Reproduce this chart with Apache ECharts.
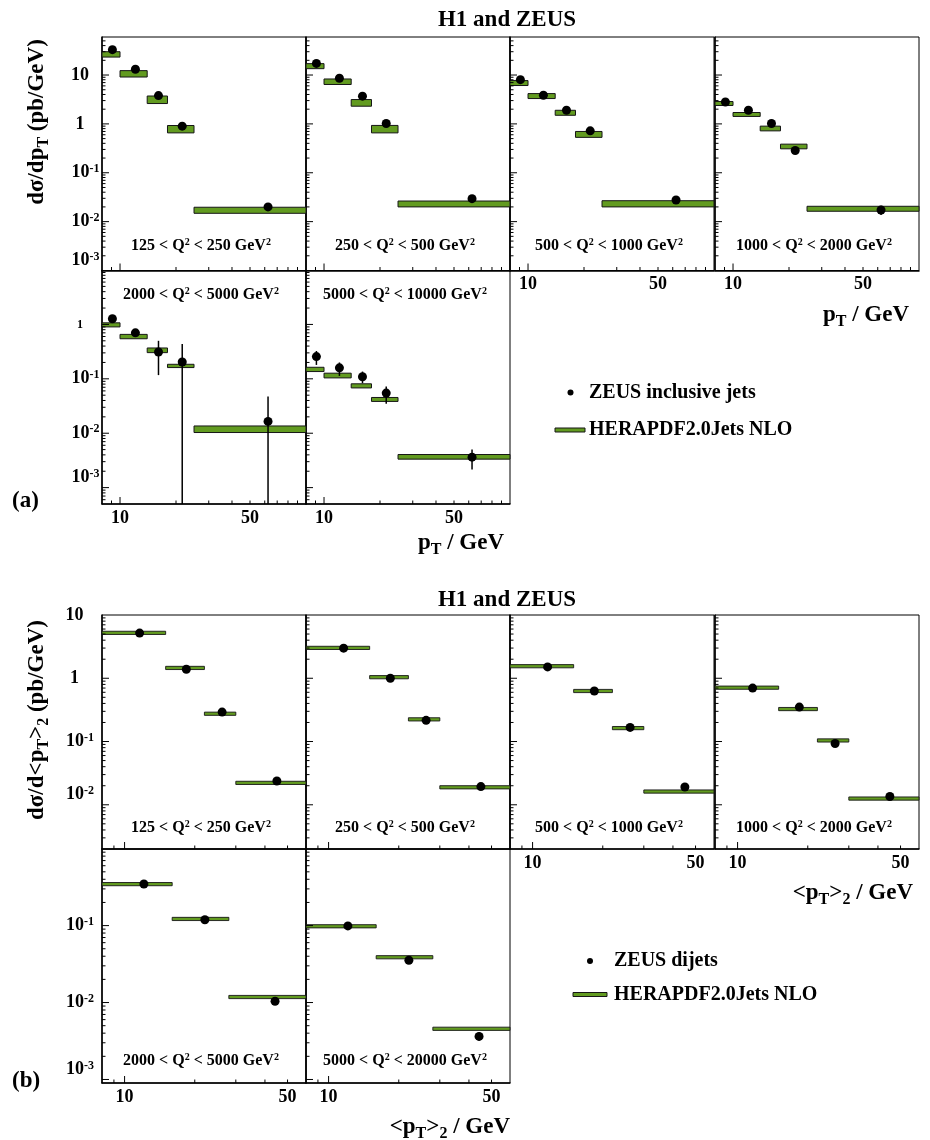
<!DOCTYPE html>
<html><head><meta charset="utf-8">
<script src="https://cdn.jsdelivr.net/npm/echarts@6/dist/echarts.min.js"></script>
<style>html,body{margin:0;padding:0;background:#fff}#c{width:930px;height:1140px}</style>
</head><body><div id="c"></div>
<script>
// ================= DATA =================
// (a) ZEUS inclusive jets, d sigma / d pT
const incEdges = [8, 10, 14, 18, 25, 100];
const incPt = [9.1, 12.1, 16.1, 21.6, 62.5];
const incQ2 = [['125','250'],['250','500'],['500','1000'],['1000','2000'],['2000','5000'],['5000','10000']];
const incXsec = [
  [33, 13.1, 3.8, 0.90, 0.020],
  [17.3, 8.6, 3.7, 1.02, 0.0295],
  [8.05, 3.85, 1.9, 0.72, 0.0277],
  [2.81, 1.9, 1.02, 0.286, 0.0173],
  [1.27, 0.70, 0.311, 0.204, 0.0165],
  [0.256, 0.159, 0.109, 0.0547, 0.00363]
];
// lower/upper ends of the error bars (0 = bar runs below the axis range)
const incErrLo = [
  [31, 12.4, 3.6, 0.85, 0.0186],
  [16.4, 8.1, 3.5, 0.96, 0.0275],
  [7.6, 3.65, 1.8, 0.68, 0.0258],
  [2.66, 1.8, 0.96, 0.27, 0.0137],
  [1.19, 0.65, 0.117, 0, 0],
  [0.18, 0.113, 0.083, 0.035, 0.00216]
];
const incErrHi = [
  [35, 13.8, 4.0, 0.95, 0.0214],
  [18.2, 9.1, 3.9, 1.08, 0.0315],
  [8.5, 4.05, 2.0, 0.76, 0.0296],
  [2.96, 2.0, 1.08, 0.30, 0.0212],
  [1.36, 0.75, 0.50, 0.436, 0.0474],
  [0.325, 0.2, 0.136, 0.072, 0.0050]
];
// HERAPDF2.0Jets NLO uncertainty band (low / high)
const incThLo = [
  [23.3, 9.1, 2.61, 0.655, 0.0148],
  [13.5, 6.4, 2.3, 0.655, 0.020],
  [6.1, 3.3, 1.5, 0.53, 0.020],
  [2.38, 1.42, 0.72, 0.309, 0.0163],
  [0.90, 0.545, 0.303, 0.161, 0.0103],
  [0.136, 0.104, 0.068, 0.0384, 0.00334]
];
const incThHi = [
  [30.0, 12.3, 3.72, 0.927, 0.0197],
  [17.1, 8.3, 3.15, 0.93, 0.0264],
  [7.7, 4.17, 1.9, 0.70, 0.0268],
  [2.87, 1.71, 0.90, 0.385, 0.0206],
  [1.07, 0.656, 0.369, 0.185, 0.0136],
  [0.163, 0.127, 0.081, 0.0454, 0.00406]
];

// (b) ZEUS dijets, d sigma / d <pT>_2
const diEdgesLowQ2 = [8, 15, 22, 30, 60];
const diPtLowQ2 = [11.6, 18.4, 26.2, 45.0];
const diEdgesHighQ2 = [8, 16, 28, 60];
const diPtHighQ2 = [12.1, 22.1, 44.2];
const diQ2 = [['125','250'],['250','500'],['500','1000'],['1000','2000'],['2000','5000'],['5000','20000']];
const diXsec = [
  [5.17, 1.39, 0.292, 0.0238],
  [2.99, 1.00, 0.216, 0.0194],
  [1.51, 0.63, 0.167, 0.0191],
  [0.70, 0.35, 0.093, 0.0135],
  [0.347, 0.119, 0.0104],
  [0.099, 0.0355, 0.00363]
];
const diErrLo = [
  [5.0, 1.34, 0.282, 0.0228],
  [2.9, 0.97, 0.209, 0.0186],
  [1.46, 0.61, 0.161, 0.0182],
  [0.68, 0.338, 0.089, 0.0128],
  [0.336, 0.115, 0.0098],
  [0.095, 0.0342, 0.0032]
];
const diErrHi = [
  [5.34, 1.44, 0.302, 0.0248],
  [3.08, 1.03, 0.223, 0.0202],
  [1.56, 0.65, 0.173, 0.0200],
  [0.72, 0.362, 0.097, 0.0142],
  [0.358, 0.123, 0.0110],
  [0.103, 0.0368, 0.0041]
];
const diTheory = [
  [5.22, 1.456, 0.275, 0.0222],
  [3.02, 1.04, 0.224, 0.0189],
  [1.55, 0.629, 0.163, 0.0162],
  [0.71, 0.326, 0.104, 0.01254],
  [0.346, 0.122, 0.0118],
  [0.098, 0.0388, 0.00456]
];

// axis ranges and labels
const incXRange = [8, 100];
const diXRange = [8, 60];
const incYRanges = [[0.001, 60], [0.0005, 9.8]];
const diYRanges = [[0.002, 10], [0.0009, 0.99]];
const xLabelValues = [10, 50];
const minorMultipliers = [2, 3, 4, 5, 6, 7, 8, 9];

// ================= STYLE / LAYOUT =================
const FONT = '"Liberation Serif","Times New Roman",serif';
const GREEN = '#629b20';
const colLeft = [102, 306, 510, 715];
const panelW = 204;

const grids = [], xAxes = [], yAxes = [], series = [], graphics = [];

function decades(r) {
  const out = [];
  for (let k = Math.ceil(Math.log10(r[0]) - 1e-9); k <= Math.floor(Math.log10(r[1]) + 1e-9); k++) out.push(Math.pow(10, k));
  return out;
}
function logTicks(r) {
  const out = [];
  for (let k = Math.floor(Math.log10(r[0])) - 1; k <= Math.ceil(Math.log10(r[1])); k++) {
    const d = Math.pow(10, k);
    if (d > r[0] * 1.0001 && d < r[1] * 0.9999) out.push({ v: d, major: true });
    minorMultipliers.forEach(m => {
      const v = m * d;
      if (v > r[0] * 1.0001 && v < r[1] * 0.9999) out.push({ v: v, major: false });
    });
  }
  return out;
}

const yRich = {
  n: { fontSize: 18, fontWeight: 'bold', fontFamily: FONT, color: '#000', lineHeight: 20 },
  t: { fontSize: 12, fontWeight: 'bold', fontFamily: FONT, color: '#000', lineHeight: 20 },
  s: { fontSize: 12, fontWeight: 'bold', fontFamily: FONT, color: '#000', lineHeight: 12, verticalAlign: 'top' },
  p: { width: 11, fontSize: 12, lineHeight: 12 }
};
function yFormatter(smallOne) {
  return function (v) {
    const k = Math.round(Math.log10(v));
    if (k === 0) return smallOne ? '{t|1}{p| }' : '{n|1}{p| }';
    if (k === 1) return '{n|10}{p| }';
    return '{n|10}{s|' + k + '}';
  };
}

function addPanel(p) {
  const gi = grids.length;
  grids.push({ left: p.left, top: p.top, width: panelW, height: p.h, show: true,
    borderColor: '#000', borderWidth: 1, backgroundColor: 'transparent', containLabel: false, outerBoundsMode: 'none' });
  xAxes.push({ type: 'log', logBase: 10, gridIndex: gi, min: p.xr[0], max: p.xr[1],
    axisLine: { show: true, onZero: false, lineStyle: { color: '#000', width: 1.5 } },
    axisTick: { show: false }, splitLine: { show: false }, minorTick: { show: false }, minorSplitLine: { show: false },
    axisLabel: { show: p.showX, customValues: xLabelValues, formatter: v => String(Math.round(v)),
      fontSize: 18, fontWeight: 'bold', fontFamily: FONT, color: '#000', margin: 5 } });
  yAxes.push({ type: 'log', logBase: 10, gridIndex: gi, min: p.yr[0], max: p.yr[1],
    axisLine: { show: true, onZero: false, lineStyle: { color: '#000', width: 1.5 } },
    axisTick: { show: false }, splitLine: { show: false }, minorTick: { show: false }, minorSplitLine: { show: false },
    axisLabel: { show: p.showY, customValues: decades(p.yr), formatter: yFormatter(p.smallOne),
      align: 'center', margin: p.labelMargin, rich: yRich, verticalAlignMinLabel: 'bottom' } });

  // theory bands
  const nb = p.pts.length;
  const thData = [];
  for (let i = 0; i < nb; i++) {
    if (p.thLo) thData.push([p.edges[i], p.thHi[i], p.edges[i + 1], p.thLo[i]]);
    else thData.push([p.edges[i], p.th[i], p.edges[i + 1], p.th[i]]);
  }
  const thin = !p.thLo;
  series.push({ type: 'custom', xAxisIndex: gi, yAxisIndex: gi, z: 2, silent: true, animation: false,
    encode: { x: 0, y: 1 }, data: thData,
    renderItem: function (params, api) {
      const a = api.coord([api.value(0), api.value(1)]);
      const b = api.coord([api.value(2), api.value(3)]);
      let y0 = a[1], hh = b[1] - a[1];
      if (thin) { y0 = a[1] - 1.6; hh = 3.2; }
      return { type: 'rect', shape: { x: a[0], y: y0, width: b[0] - a[0], height: hh },
        style: { fill: GREEN, stroke: '#161616', lineWidth: thin ? 0.9 : 1 } };
    } });

  // error bars
  const errData = p.pts.map((x, i) => [x, p.errHi[i], p.errLo[i]]);
  series.push({ type: 'custom', xAxisIndex: gi, yAxisIndex: gi, z: 3, silent: true, animation: false,
    encode: { x: 0, y: 1 }, data: errData,
    renderItem: function (params, api) {
      const cs = params.coordSys;
      const x = api.value(0), hi = api.value(1), lo = api.value(2);
      const top = api.coord([x, hi]);
      let yBot = lo > 0 ? api.coord([x, lo])[1] : cs.y + cs.height;
      yBot = Math.min(yBot, cs.y + cs.height);
      const yTop = Math.max(top[1], cs.y);
      return { type: 'line', shape: { x1: top[0], y1: yTop, x2: top[0], y2: yBot },
        style: { stroke: '#000', lineWidth: 1.5 } };
    } });

  // data points
  series.push({ type: 'scatter', xAxisIndex: gi, yAxisIndex: gi, z: 4, silent: true, animation: false,
    symbol: 'circle', symbolSize: 9, itemStyle: { color: '#000', opacity: 1, borderWidth: 0 },
    data: p.pts.map((x, i) => [x, p.xsec[i]]) });

  // axis ticks (ROOT style: inside, long at decades, short elsewhere)
  const xt = logTicks(p.xr), yt = logTicks(p.yr);
  series.push({ type: 'custom', xAxisIndex: gi, yAxisIndex: gi, z: 6, silent: true, animation: false,
    data: [[p.xr[0] * 1.01, p.yr[0] * 1.01]],
    renderItem: function (params, api) {
      const cs = params.coordSys;
      const bottom = cs.y + cs.height, left = cs.x;
      const ch = [];
      xt.forEach(t => {
        const px = api.coord([t.v, p.yr[0]])[0];
        ch.push({ type: 'line', shape: { x1: px, y1: bottom, x2: px, y2: bottom - (t.major ? 7 : 3.5) }, style: { stroke: '#000', lineWidth: 1 } });
      });
      yt.forEach(t => {
        const py = api.coord([p.xr[0], t.v])[1];
        ch.push({ type: 'line', shape: { x1: left, y1: py, x2: left + (t.major ? 7 : 3.5), y2: py }, style: { stroke: '#000', lineWidth: 1 } });
      });
      return { type: 'group', children: ch };
    } });

  // Q^2 label
  graphics.push({ type: 'text', x: p.left + panelW / 2 - 3, y: p.q2Y, z: 10,
    style: { text: '{q|' + p.q2[0] + ' < Q}{sup|2}{q| < ' + p.q2[1] + ' GeV}{sup|2}',
      align: 'center', verticalAlign: 'middle', textAlign: 'center', textVerticalAlign: 'middle',
      rich: {
        q: { fontSize: 16, fontWeight: 'bold', fontFamily: FONT, fill: '#000', color: '#000', lineHeight: 18 },
        sup: { fontSize: 10, fontWeight: 'bold', fontFamily: FONT, fill: '#000', color: '#000', lineHeight: 10, verticalAlign: 'top' }
      } } });
}

// ---- build figure (a)
const aRowTop = [37, 270.5], aRowH = 233.5;
for (let i = 0; i < 6; i++) {
  const row = i < 4 ? 0 : 1, col = i % 4;
  const top = aRowTop[row];
  addPanel({ left: colLeft[col], top: top, h: aRowH, xr: incXRange, yr: incYRanges[row],
    edges: incEdges, pts: incPt, xsec: incXsec[i], errLo: incErrLo[i], errHi: incErrHi[i],
    thLo: incThLo[i], thHi: incThHi[i],
    showX: (i >= 2), showY: (col === 0), smallOne: row === 1, labelMargin: 16.5,
    q2: incQ2[i], q2Y: row === 0 ? top + aRowH - 24.5 : top + 24.5 });
}
// ---- build figure (b)
const bRowTop = [615, 849], bRowH = 234;
for (let i = 0; i < 6; i++) {
  const row = i < 4 ? 0 : 1, col = i % 4;
  const top = bRowTop[row];
  addPanel({ left: colLeft[col], top: top, h: bRowH, xr: diXRange, yr: diYRanges[row],
    edges: row === 0 ? diEdgesLowQ2 : diEdgesHighQ2, pts: row === 0 ? diPtLowQ2 : diPtHighQ2,
    xsec: diXsec[i], errLo: diErrLo[i], errHi: diErrHi[i], th: diTheory[i],
    showX: (i >= 2), showY: (col === 0), smallOne: false, labelMargin: 22,
    q2: diQ2[i], q2Y: top + bRowH - (row === 0 ? 21 : 22) });
}

// ---- texts
const mainStyle = { fontSize: 23, fontWeight: 'bold', fontFamily: FONT, fill: '#000', color: '#000', lineHeight: 26, verticalAlign: 'top' };
const subStyle = { fontSize: 16, fontWeight: 'bold', fontFamily: FONT, fill: '#000', color: '#000', lineHeight: 16, padding: [16, 0, 0, 0], verticalAlign: 'bottom' };
function richText(x, y, text, align, rotation) {
  return { type: 'text', x: x, y: y, rotation: rotation || 0, z: 10,
    style: { text: text, align: align, verticalAlign: 'middle', textAlign: align, textVerticalAlign: 'middle',
      rich: { m: mainStyle, sub: subStyle } } };
}
function plainText(x, y, text, size, align) {
  return { type: 'text', x: x, y: y, z: 10,
    style: { text: text, fontSize: size, fontWeight: 'bold', fontFamily: FONT, fill: '#000',
      align: align, verticalAlign: 'middle', textAlign: align, textVerticalAlign: 'middle' } };
}
graphics.push(plainText(507, 20, 'H1 and ZEUS', 23, 'center'));
graphics.push(plainText(507, 600, 'H1 and ZEUS', 23, 'center'));
graphics.push(richText(39, 122, '{m|dσ/dp}{sub|T}{m| (pb/GeV)}', 'center', Math.PI / 2));
graphics.push(richText(39, 720, '{m|dσ/d<p}{sub|T}{m|>}{sub|2}{m| (pb/GeV)}', 'center', Math.PI / 2));
graphics.push(richText(909, 317, '{m|p}{sub|T}{m| / GeV}', 'right'));
graphics.push(richText(504, 545, '{m|p}{sub|T}{m| / GeV}', 'right'));
graphics.push(richText(913, 895, '{m|<p}{sub|T}{m|>}{sub|2}{m| / GeV}', 'right'));
graphics.push(richText(510, 1129, '{m|<p}{sub|T}{m|>}{sub|2}{m| / GeV}', 'right'));
graphics.push(plainText(12, 501, '(a)', 23, 'left'));
graphics.push(plainText(12, 1081, '(b)', 23, 'left'));

// legends
function legend(dotX, dotY, lineX0, lineX1, lineY, textX, label1) {
  graphics.push({ type: 'circle', shape: { cx: dotX, cy: dotY, r: 3 }, style: { fill: '#000' }, z: 10 });
  graphics.push({ type: 'rect', shape: { x: lineX0, y: lineY - 2, width: lineX1 - lineX0, height: 4 },
    style: { fill: GREEN, stroke: '#161616', lineWidth: 1 }, z: 10 });
  graphics.push(plainText(textX, dotY, label1, 20, 'left'));
  graphics.push(plainText(textX, lineY, 'HERAPDF2.0Jets NLO', 20, 'left'));
}
legend(570.5, 392.5, 555, 585, 430, 589, 'ZEUS inclusive jets');
legend(590, 961, 573, 607, 994.5, 614, 'ZEUS dijets');

const chart = echarts.init(document.getElementById('c'), null, { renderer: 'canvas' });
chart.setOption({
  animation: false,
  backgroundColor: '#fff',
  grid: grids, xAxis: xAxes, yAxis: yAxes, series: series, graphic: { elements: graphics }
});
</script></body></html>
